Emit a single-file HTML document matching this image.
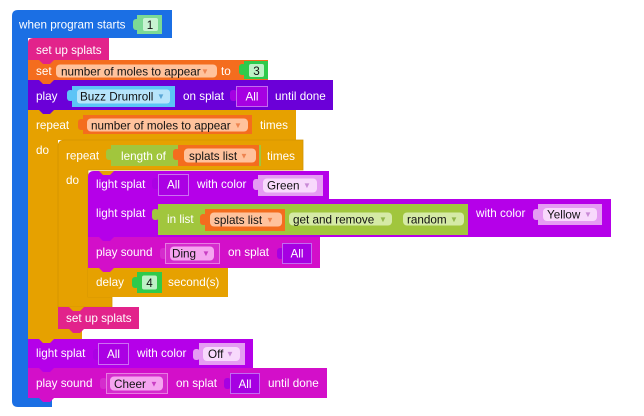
<!DOCTYPE html>
<html><head><meta charset="utf-8"><style>
html,body{margin:0;padding:0;background:#fff;}
svg{display:block}
text{font-family:"Liberation Sans",Arial,sans-serif;font-size:11.7px;}
.w{fill:#fff}
.b{fill:#111}
.m{text-anchor:middle}
.a{font-size:8px;text-anchor:middle}
</style></head><body>
<svg width="644" height="416" viewBox="0 0 644 416" xmlns="http://www.w3.org/2000/svg">
<!-- hat block -->
<path d="M12,16 Q12,10 18,10 H172 V38 H28 V398 H52 V407 H18 Q12,407 12,401 Z" fill="#1b6fe4"/>
<text x="19" y="28.5" class="w">when program starts</text>
<rect x="133" y="19" width="7" height="11" rx="3" fill="#7cda95"/>
<rect x="137" y="15" width="25" height="19" fill="#7cda95"/>
<rect x="143" y="18" width="15" height="13" rx="2" fill="#c7f3d1"/>
<text x="150" y="29" class="b m">1</text>

<!-- set up splats -->
<path d="M28,43 Q28,38 33,38 H109 V60 H28 Z" fill="#e2238b"/>
<text x="36" y="54" class="w">set up splats</text>

<!-- set -->
<rect x="28" y="60" width="240" height="20" fill="#f46d1e"/>
<text x="36" y="75" class="w">set</text>
<rect x="56" y="64.5" width="161" height="13" rx="4" fill="#ffc29c"/>
<text x="61" y="75.5" class="b">number of moles to appear</text>
<text x="205" y="74" class="a" fill="#ee8450">▼</text>
<text x="221" y="75" class="w">to</text>
<rect x="239" y="64" width="7" height="11" rx="3" fill="#2fca4b"/>
<rect x="244" y="61" width="24" height="18" fill="#2fca4b"/>
<rect x="249" y="64" width="15" height="13" rx="2" fill="#bdf1c6"/>
<text x="256.5" y="75" class="b m">3</text>

<!-- play -->
<rect x="28" y="80" width="305" height="30" fill="#6b00d8"/>
<text x="36" y="100" class="w">play</text>
<rect x="67" y="90" width="7" height="11" rx="3" fill="#5cc4f6"/>
<rect x="72" y="86" width="103" height="21" fill="#5cc4f6"/>
<rect x="77" y="89.5" width="93" height="14" rx="3" fill="#b6e4fb"/>
<text x="80" y="100.5" class="b">Buzz Drumroll</text>
<text x="161" y="99" class="a" fill="#5aa7d6">▼</text>
<text x="183" y="100" class="w">on splat</text>
<rect x="230" y="90" width="7" height="11" rx="3" fill="#a600e2"/>
<rect x="236.5" y="86.5" width="31" height="20" fill="#a600e2" stroke="#c36af0"/>
<text x="252" y="100.5" class="w m">All</text>
<text x="275" y="100" class="w">until done</text>

<!-- outer repeat -->
<path d="M28,110 H296 V140 H58 V329 H82 V339 H28 Z" fill="#e6a100"/>
<text x="36" y="129" class="w">repeat</text>
<rect x="78" y="119" width="7" height="11" rx="3" fill="#f46d1e"/>
<rect x="83" y="115" width="169" height="19" fill="#f46d1e"/>
<rect x="87" y="118.5" width="161" height="13" rx="4" fill="#ffc29c"/>
<text x="91" y="129.5" class="b">number of moles to appear</text>
<text x="238" y="128" class="a" fill="#ee8450">▼</text>
<text x="260" y="129" class="w">times</text>
<text x="36" y="154" class="w">do</text>

<!-- inner repeat -->
<path d="M58,147 Q58,140 65,140 H303 V170 H88 V297 H112 V307 H58 Z" fill="#e6a100" stroke="#d39300" stroke-width="0.8"/>
<text x="66" y="159.5" class="w">repeat</text>
<rect x="106" y="149" width="7" height="11" rx="3" fill="#a1c63d"/>
<rect x="111" y="145" width="150" height="21" fill="#a1c63d"/>
<text x="121" y="160" class="w">length of</text>
<rect x="173" y="149" width="7" height="11" rx="3" fill="#f46d1e"/>
<rect x="178" y="145" width="81" height="21" fill="#f46d1e"/>
<rect x="184" y="148.5" width="72" height="14" rx="4" fill="#ffc29c"/>
<text x="189" y="160" class="b">splats list</text>
<text x="244" y="158.5" class="a" fill="#ee8450">▼</text>
<text x="267" y="160" class="w">times</text>
<text x="66" y="184" class="w">do</text>

<!-- light splat 1 -->
<path d="M88,177 Q88,171 94,171 H329 V199 H88 Z" fill="#b500e9"/>
<text x="96" y="188" class="w">light splat</text>
<rect x="152" y="178" width="7" height="11" rx="3" fill="#ab00e4"/>
<rect x="158.5" y="174.5" width="30" height="21" fill="#ab00e4" stroke="#cd6ef3"/>
<text x="173.5" y="188.5" class="w m">All</text>
<text x="197" y="188" class="w">with color</text>
<rect x="253" y="179" width="7" height="11" rx="3" fill="#e59cf3"/>
<rect x="258" y="175" width="65" height="21" fill="#e59cf3"/>
<rect x="263" y="178.5" width="54" height="14" rx="4" fill="#f8d9fc"/>
<text x="267" y="189.5" class="b">Green</text>
<text x="307" y="188" class="a" fill="#c98ad6">▼</text>

<!-- light splat 2 -->
<rect x="88" y="199" width="523" height="38" fill="#b500e9"/>
<text x="96" y="217" class="w">light splat</text>
<rect x="152" y="209" width="7" height="11" rx="3" fill="#a1c63d"/>
<rect x="158" y="204" width="310" height="31" fill="#a1c63d"/>
<text x="167" y="223" class="w">in list</text>
<rect x="200" y="214" width="7" height="11" rx="3" fill="#f46d1e"/>
<rect x="205" y="209" width="80" height="22" fill="#f46d1e"/>
<rect x="210" y="212.5" width="72" height="14" rx="4" fill="#ffc29c"/>
<text x="214" y="224" class="b">splats list</text>
<text x="270" y="222.5" class="a" fill="#ee8450">▼</text>
<rect x="289" y="212.5" width="103" height="13" rx="4" fill="#d5eaa6"/>
<text x="293" y="223.5" class="b">get and remove</text>
<text x="383" y="222" class="a" fill="#91b64a">▼</text>
<rect x="403" y="212.5" width="61" height="13" rx="4" fill="#d5eaa6"/>
<text x="407" y="223.5" class="b">random</text>
<text x="454" y="222" class="a" fill="#91b64a">▼</text>
<text x="476" y="217" class="w">with color</text>
<rect x="533" y="209" width="7" height="11" rx="3" fill="#e59cf3"/>
<rect x="538" y="204" width="64" height="21" fill="#e59cf3"/>
<rect x="543" y="208" width="54" height="13" rx="4" fill="#f8d9fc"/>
<text x="547" y="218.5" class="b">Yellow</text>
<text x="588" y="217" class="a" fill="#c98ad6">▼</text>

<!-- play sound Ding -->
<rect x="88" y="237" width="232" height="31" fill="#d30fc9"/>
<text x="96" y="256" class="w">play sound</text>
<rect x="160" y="248" width="7" height="11" rx="3" fill="#d52ccd"/>
<rect x="165.5" y="243.5" width="54" height="20" fill="#d52ccd" stroke="#e77be2"/>
<rect x="170" y="246.5" width="44" height="14" rx="4" fill="#f5a4f0"/>
<text x="172" y="257.5" class="b">Ding</text>
<text x="206" y="256" class="a" fill="#c93ec4">▼</text>
<text x="228" y="256" class="w">on splat</text>
<rect x="277" y="248" width="7" height="11" rx="3" fill="#a600e2"/>
<rect x="282.5" y="243.5" width="29" height="20" fill="#a600e2" stroke="#c36af0"/>
<text x="297" y="257.5" class="w m">All</text>

<!-- delay -->
<rect x="88" y="268" width="140" height="29" fill="#e6a100"/>
<text x="96" y="286" class="w">delay</text>
<rect x="132" y="277" width="7" height="11" rx="3" fill="#2fca4b"/>
<rect x="137" y="272" width="25" height="21" fill="#2fca4b"/>
<rect x="142" y="275.5" width="15" height="14" rx="2" fill="#bdf1c6"/>
<text x="149.5" y="287" class="b m">4</text>
<text x="168" y="286" class="w">second(s)</text>

<!-- set up splats 2 -->
<rect x="58" y="307" width="81" height="22" fill="#e2238b"/>
<text x="66" y="322" class="w">set up splats</text>

<!-- light splat Off -->
<rect x="28" y="339" width="225" height="29" fill="#b500e9"/>
<text x="36" y="357" class="w">light splat</text>
<rect x="93" y="349" width="7" height="11" rx="3" fill="#ab00e4"/>
<rect x="98.5" y="343.5" width="30" height="21" fill="#ab00e4" stroke="#cd6ef3"/>
<text x="113.5" y="358" class="w m">All</text>
<text x="137" y="357" class="w">with color</text>
<rect x="193" y="349" width="7" height="11" rx="3" fill="#e59cf3"/>
<rect x="199" y="343" width="46" height="22" fill="#e59cf3"/>
<rect x="203" y="347" width="37" height="14" rx="4" fill="#f8d9fc"/>
<text x="208" y="358" class="b">Off</text>
<text x="230" y="356.5" class="a" fill="#c98ad6">▼</text>

<!-- play sound Cheer -->
<rect x="28" y="368" width="299" height="30" fill="#d30fc9"/>
<text x="36" y="387" class="w">play sound</text>
<rect x="100" y="378" width="7" height="11" rx="3" fill="#d52ccd"/>
<rect x="106.5" y="373.5" width="61" height="20" fill="#d52ccd" stroke="#e77be2"/>
<rect x="110" y="376.5" width="53" height="14" rx="4" fill="#f5a4f0"/>
<text x="114" y="388" class="b">Cheer</text>
<text x="154" y="386.5" class="a" fill="#c93ec4">▼</text>
<text x="176" y="387" class="w">on splat</text>
<rect x="224" y="378" width="7" height="11" rx="3" fill="#a600e2"/>
<rect x="230.5" y="373.5" width="29" height="20" fill="#a600e2" stroke="#c36af0"/>
<text x="245" y="388" class="w m">All</text>
<text x="268" y="387" class="w">until done</text>

<!-- notches -->
<polygon points="39,60 43,64 50,64 54,60" fill="#e2238b"/>
<polygon points="39,80 43,84 50,84 54,80" fill="#f46d1e"/>
<polygon points="39,110 43,114 50,114 54,110" fill="#6b00d8"/>
<polygon points="99,171 103,175 110,175 114,171" fill="#e6a100"/>
<polygon points="99,237 103,241 110,241 114,237" fill="#b500e9"/>
<polygon points="99,268 103,272 110,272 114,268" fill="#d30fc9"/>
<polygon points="69,307 73,311 80,311 84,307" fill="#e6a100"/>
<polygon points="69,329 73,333 80,333 84,329" fill="#e2238b"/>
<polygon points="39,339 43,343 50,343 54,339" fill="#e6a100"/>
<polygon points="39,368 43,372 50,372 54,368" fill="#b500e9"/>
<polygon points="39,398 43,402 50,402 54,398" fill="#d30fc9"/>
</svg>
</body></html>
